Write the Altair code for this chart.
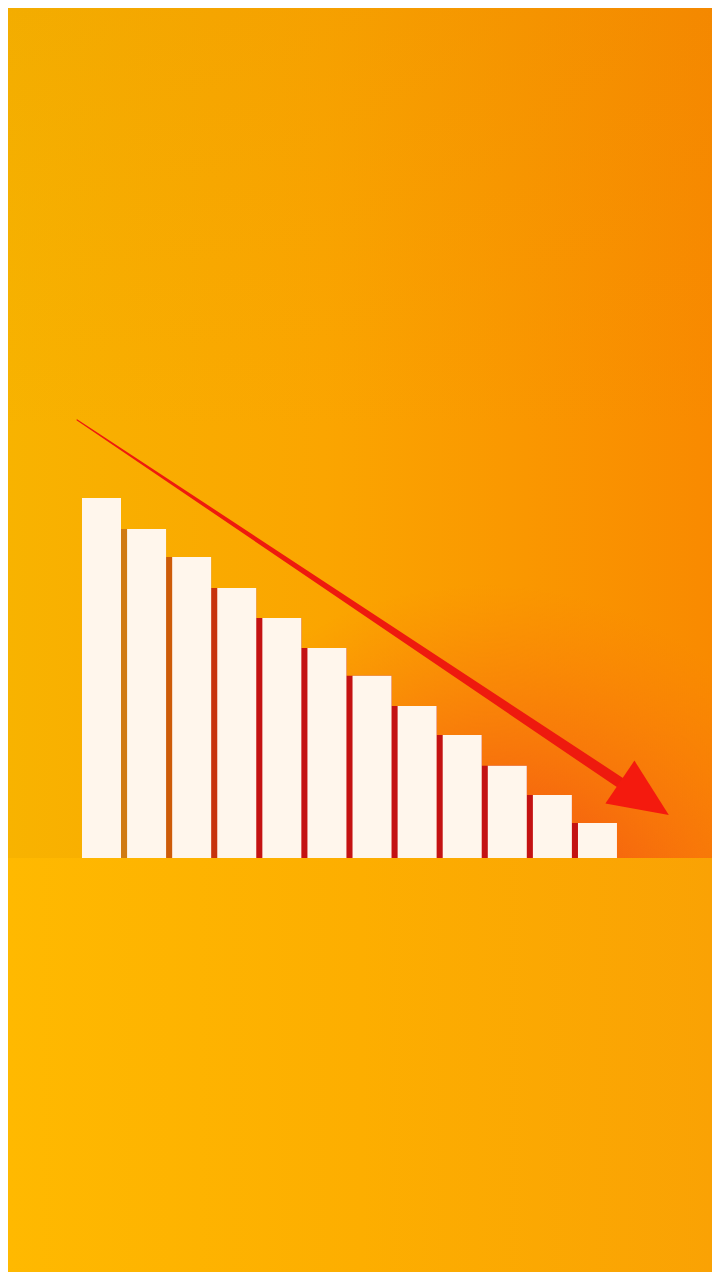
import altair as alt
import pandas as pd

# ---- data ----
bar_index = list(range(1, 13))
bar_values = [100, 91.4, 83.6, 75, 66.7, 58.3, 50.6, 42.2, 34.2, 25.6, 17.5, 9.7]

# arrow (in the same data units: bar index / value)
arrow_x = [0.46, 12.48]
arrow_y = [121.7, 21.1]
arrow_w = [1.2, 11.0]
head_x = [13.04]
head_y = [16.5]

X_DOM = [-1.0736, 14.54]
Y_DOM = [-115.0, 236.11]

W, H = 704, 1264

xs = alt.Scale(domain=X_DOM, nice=False, zero=False, padding=0)
ys = alt.Scale(domain=Y_DOM, nice=False, zero=False, padding=0)

bars = pd.DataFrame({"idx": bar_index, "value": bar_values})
arrow = pd.DataFrame({"x": arrow_x, "y": arrow_y, "w": arrow_w, "o": [0, 1]})
head = pd.DataFrame({"x": head_x, "y": head_y})

one = alt.Data(values=[{"x0": X_DOM[0], "x1": X_DOM[1], "y0": 0, "ytop": Y_DOM[1], "ybot": Y_DOM[0],
                        "gx0": 2.0, "gx1": 14.54, "gy1": 105.0}])


def grad(stops, x1=0, y1=0, x2=1, y2=0):
    return alt.LinearGradient(gradient="linear",
                              stops=[alt.GradientStop(color=c, offset=o) for o, c in stops],
                              x1=x1, y1=y1, x2=x2, y2=y2)


X0 = alt.X("x0:Q", scale=xs, axis=None)

wall = alt.Chart(one).mark_rect(
    color=grad([(0, "#F8B300"), (0.45, "#FBA500"), (1, "#F98A00")])
).encode(
    x=X0, x2="x1:Q",
    y=alt.Y("y0:Q", scale=ys, axis=None), y2="ytop:Q",
)

wall_top = alt.Chart(one).mark_rect(
    color=grad([(0, "rgba(200,120,0,0.10)"), (0.5, "rgba(200,120,0,0)"), (1, "rgba(200,120,0,0)")],
               x1=0, y1=0, x2=0, y2=1)
).encode(
    x=X0, x2="x1:Q",
    y=alt.Y("y0:Q", scale=ys, axis=None), y2="ytop:Q",
)

glow = alt.Chart(one).mark_rect(
    color=alt.RadialGradient(
        gradient="radial",
        stops=[alt.GradientStop(color="rgba(242,70,20,0.9)", offset=0),
               alt.GradientStop(color="rgba(245,85,20,0.65)", offset=0.45),
               alt.GradientStop(color="rgba(250,110,20,0)", offset=1)],
        x1=0.6, y1=1.0, r1=0, x2=0.6, y2=1.0, r2=0.65)
).encode(
    x=alt.X("gx0:Q", scale=xs, axis=None), x2="gx1:Q",
    y=alt.Y("y0:Q", scale=ys, axis=None), y2="gy1:Q",
)

floor = alt.Chart(one).mark_rect(
    color=grad([(0, "#FFB900"), (0.5, "#FDAE00"), (1, "#FAA204")])
).encode(
    x=X0, x2="x1:Q",
    y=alt.Y("ybot:Q", scale=ys, axis=None), y2="y0:Q",
)

shadow = alt.Chart(bars).transform_filter("datum.idx > 1").mark_bar(width=45.5, xOffset=-3.25).encode(
    x=alt.X("idx:Q", scale=xs, axis=None),
    y=alt.Y("value:Q", scale=ys, axis=None),
    y2=alt.datum(0),
    color=alt.Color("idx:Q", scale=alt.Scale(domain=[2, 4.5], range=["#D07A12", "#C41212"], clamp=True),
                    legend=None),
)

white = alt.Chart(bars).mark_bar(width=39, color="#FFF6EC").encode(
    x=alt.X("idx:Q", scale=xs, axis=None),
    y=alt.Y("value:Q", scale=ys, axis=None),
    y2=alt.datum(0),
)

shaft = alt.Chart(arrow).mark_trail(color="#EE1A0E").encode(
    x=alt.X("x:Q", scale=xs, axis=None),
    y=alt.Y("y:Q", scale=ys, axis=None),
    size=alt.Size("w:Q", scale=None, legend=None),
    order="o:Q",
)

arrowhead = alt.Chart(head).mark_point(
    shape="M -1 -0.88 L 1 0 L -1 0.88 Z", size=3481, angle=34,
    filled=True, color="#F41A0E", opacity=1, strokeWidth=0
).encode(
    x=alt.X("x:Q", scale=xs, axis=None),
    y=alt.Y("y:Q", scale=ys, axis=None),
)

chart = alt.layer(wall, wall_top, glow, floor, shadow, white, shaft, arrowhead).properties(
    width=W, height=H,
    autosize=alt.AutoSizeParams(type="fit", contains="padding"),
    padding=0,
    background="#F8A800",
).configure_view(stroke=None)

chart.save("out.html", embed_options={"renderer": "svg", "actions": False})
